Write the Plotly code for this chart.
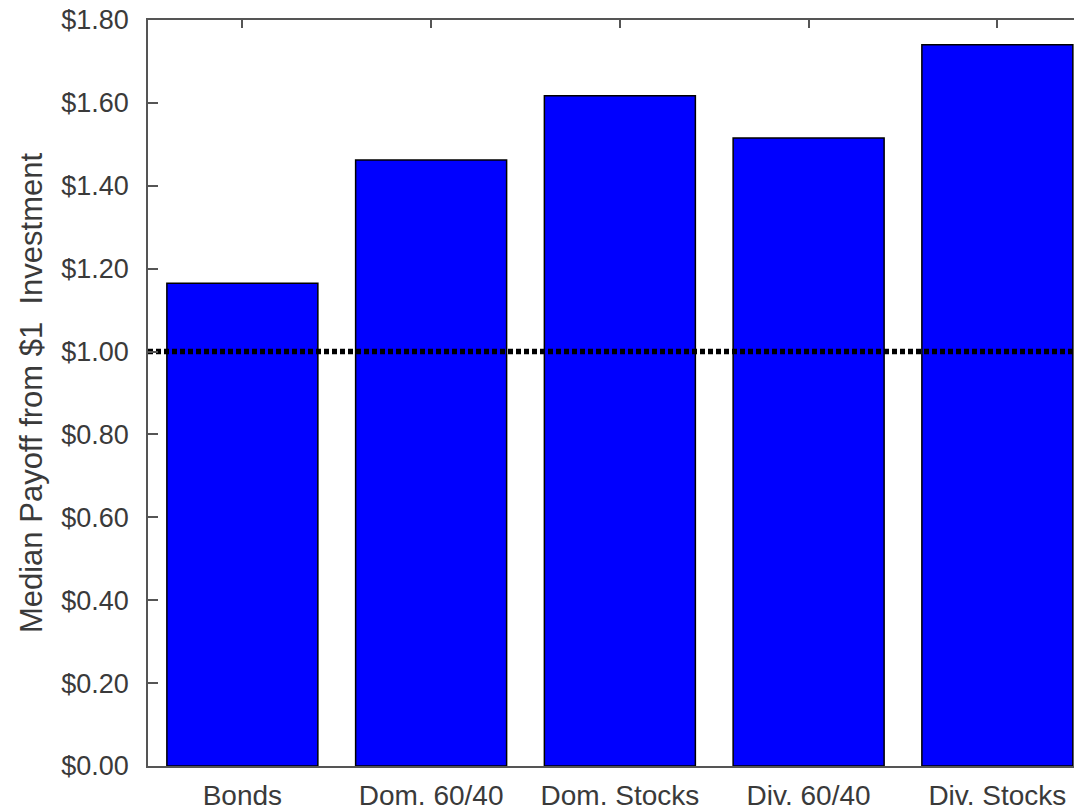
import plotly.graph_objects as go

# Median payoff of a $1 investment by portfolio
categories = ["Bonds", "Dom. 60/40", "Dom. Stocks", "Div. 60/40", "Div. Stocks"]
median_payoff = [1.165, 1.462, 1.617, 1.515, 1.740]
breakeven = 1.00

y_ticks = [0.0, 0.2, 0.4, 0.6, 0.8, 1.0, 1.2, 1.4, 1.6, 1.8]
y_tick_text = [f"${v:.2f}" for v in y_ticks]

font_family = "Liberation Sans, Arial, sans-serif"
text_color = "#3a3a3a"
axis_color = "#555555"

fig = go.Figure()

fig.add_trace(go.Bar(
    x=list(range(len(categories))),
    y=median_payoff,
    width=0.8,
    marker=dict(color="#0000FF", line=dict(color="#000000", width=1.5)),
    showlegend=False,
    hoverinfo="skip",
))

# Break-even reference line
fig.add_trace(go.Scatter(
    x=[-0.5, len(categories) - 0.5],
    y=[breakeven, breakeven],
    mode="lines",
    line=dict(color="#000000", width=5.5, dash="5px,3px"),
    showlegend=False,
    hoverinfo="skip",
))

# Invisible trace to carry the top tick axis
fig.add_trace(go.Scatter(
    x=[0], y=[0], xaxis="x2", mode="markers",
    marker=dict(opacity=0), showlegend=False, hoverinfo="skip",
))

x_range = [-0.5, 4.406]

fig.update_layout(
    width=1074,
    height=812,
    margin=dict(l=148, r=0, t=20, b=46),
    plot_bgcolor="white",
    paper_bgcolor="white",
    font=dict(family=font_family, size=28, color=text_color),
    xaxis=dict(
        range=x_range,
        tickmode="array",
        tickvals=list(range(len(categories))),
        ticktext=categories,
        ticks="",
        showline=True,
        linecolor=axis_color,
        linewidth=1.5,
        mirror=True,
        showgrid=False,
        zeroline=False,
        tickfont=dict(size=28, color=text_color),
        ticklabelstandoff=4,
        fixedrange=True,
    ),
    xaxis2=dict(
        range=x_range,
        overlaying="x",
        side="top",
        tickmode="array",
        tickvals=list(range(len(categories))),
        ticks="inside",
        ticklen=8,
        tickwidth=1.5,
        tickcolor=axis_color,
        showticklabels=False,
        showline=False,
        showgrid=False,
        zeroline=False,
        fixedrange=True,
    ),
    yaxis=dict(
        range=[0, 1.8],
        tickmode="array",
        tickvals=y_ticks,
        ticktext=y_tick_text,
        ticks="inside",
        ticklen=10,
        tickwidth=1.5,
        tickcolor=axis_color,
        showline=True,
        linecolor=axis_color,
        linewidth=1.5,
        showgrid=False,
        zeroline=False,
        tickfont=dict(size=27, color=text_color),
        ticklabelstandoff=12,
        title=dict(
            text="Median Payoff from $1  Investment",
            font=dict(size=31, color=text_color),
            standoff=9,
        ),
        fixedrange=True,
    ),
)

fig.write_html("out.html")
